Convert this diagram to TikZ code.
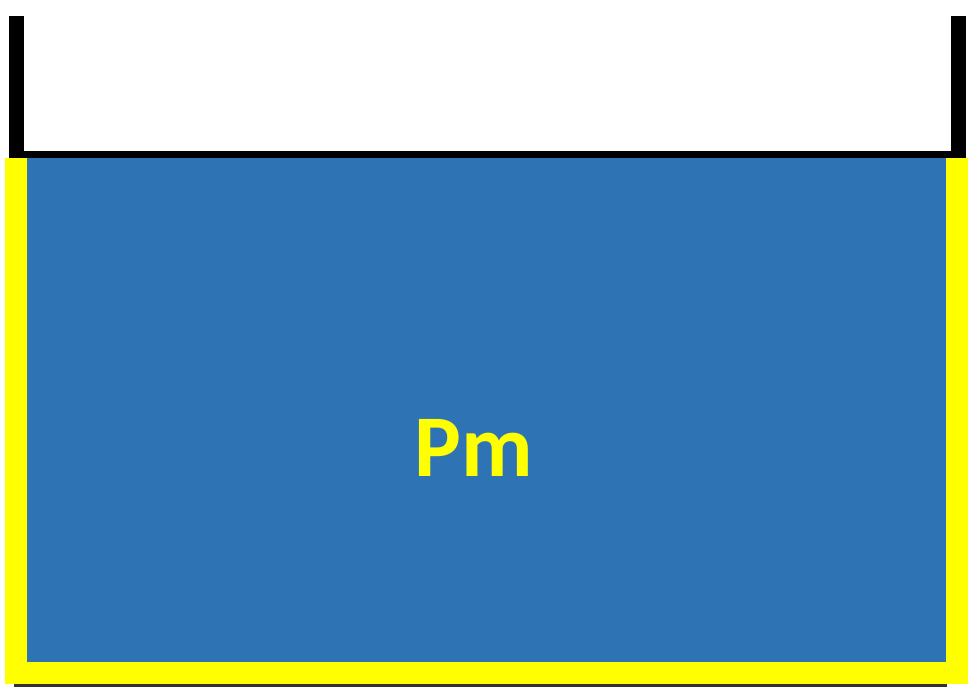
\documentclass[tikz,border=0pt]{standalone}
\usepackage{fontspec}
\newfontfamily\labelfont{Carlito}
\definecolor{tankblue}{HTML}{2E74B5}
\definecolor{wallyellow}{HTML}{FFFF00}
\begin{document}
\begin{tikzpicture}[x=1pt,y=-1pt,
  wall/.style={fill=black,draw=none},
  lining/.style={fill=wallyellow,draw=none},
  liquid/.style={fill=tankblue,draw=none}]
\useasboundingbox (0,0) rectangle (978,697);
% black open container walls above the liquid
\fill[wall] (9,16) rectangle (24,158);
\fill[wall] (951,16) rectangle (966,158);
\fill[wall] (24,151) rectangle (951,158);
% thin shadow under the base
\fill[black!80] (14,683) rectangle (947,687);
% yellow lining of the lower vessel
\fill[lining] (5,158) rectangle (968,684);
% liquid body
\fill[liquid] (27,158) rectangle (946,662);
\node[text=wallyellow,font=\labelfont\bfseries\fontsize{88}{88}\selectfont] (pm) at (474,448) {Pm};
\end{tikzpicture}
\end{document}
